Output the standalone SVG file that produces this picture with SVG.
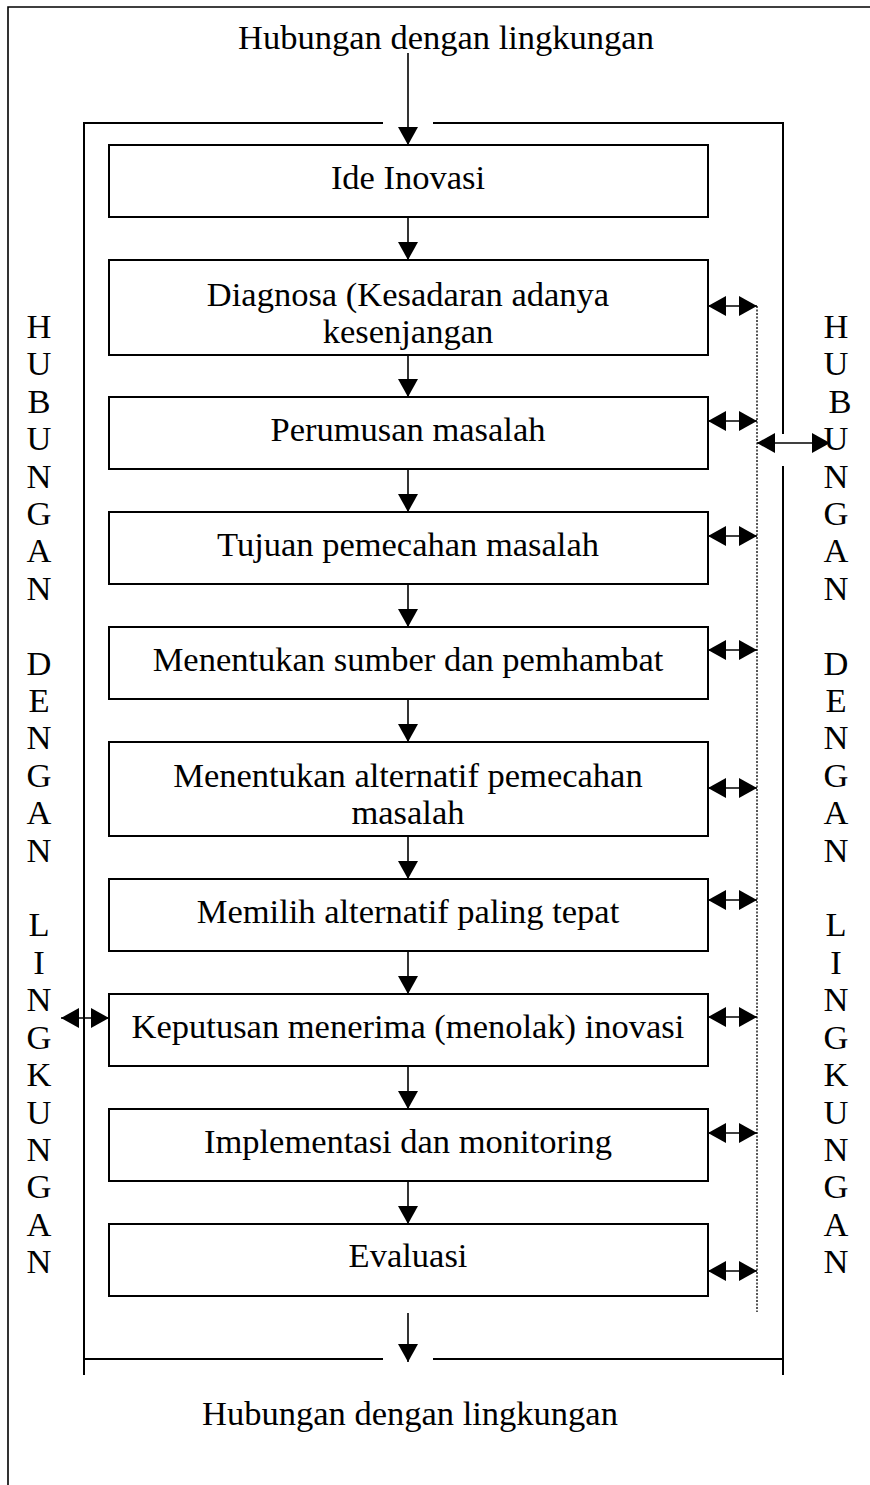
<svg xmlns="http://www.w3.org/2000/svg" width="870" height="1485" viewBox="0 0 870 1485">
  <style>
    .frame { fill: none; stroke: #000; stroke-width: 1.6; }
    .inner { fill: none; stroke: #000; stroke-width: 2; }
    .box { fill: #fff; stroke: #000; stroke-width: 2; }
    .lbl { font-family: "Liberation Serif", "Times New Roman", serif; font-size: 34.5px; fill: #000; text-anchor: middle; }
    .flow { stroke: #000; stroke-width: 1.6; fill: none; marker-end: url(#ah); }
    .dbl { stroke: #000; stroke-width: 1.6; fill: none; marker-start: url(#ah); marker-end: url(#ah); }
    .dots { stroke: #111; stroke-width: 1.4; stroke-dasharray: 2 1.5; fill: none; }
  </style>
  <defs>
    <marker id="ah" viewBox="0 0 18 20" refX="18" refY="10" markerWidth="18" markerHeight="20" markerUnits="userSpaceOnUse" orient="auto-start-reverse">
      <path d="M0,0 L18,10 L0,20 z" fill="#000"/>
    </marker>
  </defs>

  <rect width="870" height="1485" fill="#fff"/>

  <!-- outer environment frame (open to the right and bottom) -->
  <g id="outer-frame">
    <path class="frame" d="M8,1485 V7 H870"/>
  </g>

  <!-- inner system frame with gaps for the in/out arrows -->
  <g id="inner-frame">
    <path class="inner" d="M383,123 H84 V1375"/>
    <path class="inner" d="M433,123 H783 V434"/>
    <path class="inner" d="M783,466 V1375"/>
    <path class="inner" d="M84,1359 H383"/>
    <path class="inner" d="M433,1359 H783"/>
  </g>

  <!-- environment labels -->
  <g id="env-top"><text class="lbl" x="446" y="49">Hubungan dengan lingkungan</text></g>
  <g id="env-bottom"><text class="lbl" x="410" y="1425">Hubungan dengan lingkungan</text></g>

  <g id="env-left" class="lbl">
    <text x="39" y="338">H</text>
    <text x="39" y="375">U</text>
    <text x="39" y="413">B</text>
    <text x="39" y="450">U</text>
    <text x="39" y="488">N</text>
    <text x="39" y="525">G</text>
    <text x="39" y="562">A</text>
    <text x="39" y="600">N</text>
    <text x="39" y="675">D</text>
    <text x="39" y="712">E</text>
    <text x="39" y="749">N</text>
    <text x="39" y="787">G</text>
    <text x="39" y="824">A</text>
    <text x="39" y="862">N</text>
    <text x="39" y="936">L</text>
    <text x="39" y="974">I</text>
    <text x="39" y="1011">N</text>
    <text x="39" y="1049">G</text>
    <text x="39" y="1086">K</text>
    <text x="39" y="1124">U</text>
    <text x="39" y="1161">N</text>
    <text x="39" y="1198">G</text>
    <text x="39" y="1236">A</text>
    <text x="39" y="1273">N</text>
  </g>

  <g id="env-right" class="lbl">
    <text x="836" y="338">H</text>
    <text x="836" y="375">U</text>
    <text x="840" y="413">B</text>
    <text x="836" y="450">U</text>
    <text x="836" y="488">N</text>
    <text x="836" y="525">G</text>
    <text x="836" y="562">A</text>
    <text x="836" y="600">N</text>
    <text x="836" y="675">D</text>
    <text x="836" y="712">E</text>
    <text x="836" y="749">N</text>
    <text x="836" y="787">G</text>
    <text x="836" y="824">A</text>
    <text x="836" y="862">N</text>
    <text x="836" y="936">L</text>
    <text x="836" y="974">I</text>
    <text x="836" y="1011">N</text>
    <text x="836" y="1049">G</text>
    <text x="836" y="1086">K</text>
    <text x="836" y="1124">U</text>
    <text x="836" y="1161">N</text>
    <text x="836" y="1198">G</text>
    <text x="836" y="1236">A</text>
    <text x="836" y="1273">N</text>
  </g>

  <!-- process steps -->
  <g id="ide-inovasi">
    <rect class="box" x="109" y="145" width="599" height="72"/>
    <text class="lbl" x="408" y="189">Ide Inovasi</text>
  </g>
  <g id="diagnosa">
    <rect class="box" x="109" y="260" width="599" height="95"/>
    <text class="lbl" x="408" y="306">Diagnosa (Kesadaran adanya</text>
    <text class="lbl" x="408" y="343">kesenjangan</text>
  </g>
  <g id="perumusan">
    <rect class="box" x="109" y="397" width="599" height="72"/>
    <text class="lbl" x="408" y="441">Perumusan masalah</text>
  </g>
  <g id="tujuan">
    <rect class="box" x="109" y="512" width="599" height="72"/>
    <text class="lbl" x="408" y="556">Tujuan pemecahan masalah</text>
  </g>
  <g id="sumber">
    <rect class="box" x="109" y="627" width="599" height="72"/>
    <text class="lbl" x="408" y="671">Menentukan sumber dan pemhambat</text>
  </g>
  <g id="alternatif">
    <rect class="box" x="109" y="742" width="599" height="94"/>
    <text class="lbl" x="408" y="787">Menentukan alternatif pemecahan</text>
    <text class="lbl" x="408" y="824">masalah</text>
  </g>
  <g id="memilih">
    <rect class="box" x="109" y="879" width="599" height="72"/>
    <text class="lbl" x="408" y="923">Memilih alternatif paling tepat</text>
  </g>
  <g id="keputusan">
    <rect class="box" x="109" y="994" width="599" height="72"/>
    <text class="lbl" x="408" y="1038">Keputusan menerima (menolak) inovasi</text>
  </g>
  <g id="implementasi">
    <rect class="box" x="109" y="1109" width="599" height="72"/>
    <text class="lbl" x="408" y="1153">Implementasi dan monitoring</text>
  </g>
  <g id="evaluasi">
    <rect class="box" x="109" y="1224" width="599" height="72"/>
    <text class="lbl" x="408" y="1267">Evaluasi</text>
  </g>

  <!-- connectors -->
  <g id="connectors">
    <!-- main flow -->
    <line class="flow" x1="408" y1="53" x2="408" y2="145"/>
    <line class="flow" x1="408" y1="217" x2="408" y2="260"/>
    <line class="flow" x1="408" y1="355" x2="408" y2="397"/>
    <line class="flow" x1="408" y1="469" x2="408" y2="512"/>
    <line class="flow" x1="408" y1="584" x2="408" y2="627"/>
    <line class="flow" x1="408" y1="699" x2="408" y2="742"/>
    <line class="flow" x1="408" y1="836" x2="408" y2="879"/>
    <line class="flow" x1="408" y1="951" x2="408" y2="994"/>
    <line class="flow" x1="408" y1="1066" x2="408" y2="1109"/>
    <line class="flow" x1="408" y1="1181" x2="408" y2="1224"/>
    <line class="flow" x1="408" y1="1313" x2="408" y2="1362"/>

    <!-- feedback bus -->
    <line class="dots" x1="757" y1="306" x2="757" y2="1312"/>
    <line class="dbl" x1="708" y1="306" x2="757" y2="306"/>
    <line class="dbl" x1="708" y1="421" x2="757" y2="421"/>
    <line class="dbl" x1="708" y1="536" x2="757" y2="536"/>
    <line class="dbl" x1="708" y1="650" x2="757" y2="650"/>
    <line class="dbl" x1="708" y1="788" x2="757" y2="788"/>
    <line class="dbl" x1="708" y1="900" x2="757" y2="900"/>
    <line class="dbl" x1="708" y1="1017" x2="757" y2="1017"/>
    <line class="dbl" x1="708" y1="1133" x2="757" y2="1133"/>
    <line class="dbl" x1="708" y1="1271" x2="757" y2="1271"/>

    <!-- exchanges with the environment -->
    <line class="dbl" x1="757" y1="443" x2="830" y2="443"/>
    <line class="dbl" x1="61" y1="1018" x2="109" y2="1018"/>
  </g>
</svg>
